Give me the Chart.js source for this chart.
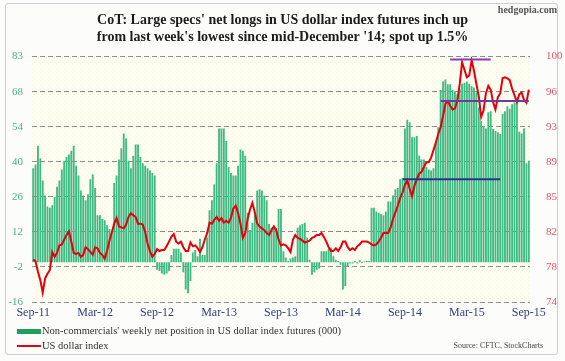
<!DOCTYPE html>
<html><head><meta charset="utf-8">
<script src="https://cdn.jsdelivr.net/npm/chart.js@4/dist/chart.umd.min.js"></script>
<style>
html,body{margin:0;padding:0;background:#fff;}
#wrap{position:relative;width:565px;height:361px;overflow:hidden;background:#fcfcfa;}
#frame{position:absolute;left:5px;top:3px;width:553px;height:352px;border:1px solid #c7cfdb;border-radius:3px;box-sizing:border-box;}
#c{position:absolute;left:0;top:0;}
.t{position:absolute;font-family:"Liberation Serif","Times New Roman",serif;color:#333;white-space:nowrap;}
.sw{position:absolute;}
</style></head>
<body>
<div id="wrap">
<div id="frame"></div>
<canvas id="c" width="565" height="361"></canvas>
<div class="t" id="brand" style="right:8px;top:4px;font-size:10px;font-weight:bold;color:#555;">hedgopia.com</div>
<div class="sw" style="left:17px;top:329px;width:24px;height:5px;background:#1f9e5e;"></div>
<div class="t" id="lg1" style="left:42px;top:324px;font-size:10.5px;line-height:13px;"></div>
<div class="sw" style="left:17px;top:345px;width:24px;height:2px;background:#e3000f;"></div>
<div class="t" id="lg2" style="left:42px;top:339px;font-size:10.5px;line-height:13px;"></div>
<div class="t" id="src" style="right:22px;top:341px;font-size:8px;line-height:10px;color:#444;">Source: CFTC, StockCharts</div>
</div>
<script>
// ---- data ----
const titleLines = ["CoT: Large specs' net longs in US dollar index futures inch up",
                    "from last week's lowest since mid-December '14; spot up 1.5%"];
const seriesNames = ["Non-commercials' weekly net position in US dollar index futures (000)", "US dollar index"];
const tickLabels = ["Sep-11","Mar-12","Sep-12","Mar-13","Sep-13","Mar-14","Sep-14","Mar-15","Sep-15"];
const leftTicks = [-16,-2,12,26,40,54,68,83];
const rightTicks = [74,78,82,85,89,93,96,100];
const firstWeek = "2011-09-20";

const netLongs = [
 38,39.5,47,42,33,27,22.5,22,23,26.5,
 30.5,33,37.5,41,42.5,43.5,45,47,39,35,
 29,27,25,27.5,33.5,35.5,30,19,19,17.5,
 17,15,13.5,12.5,32,35,41.5,46,52,50,
 41,38,43,47.5,47.5,42.5,40,39,38,37,
 36,35,-3,-3.5,-4.5,-5,-4.5,-3.5,3,5.5,
 5.5,5.5,4,-4,-11,-12.5,-7.5,4,5,2.5,
 9.5,3,3,10,21,25,31.5,40,54,54,
 54,49,38.5,36,35,35,39,45.5,45,43,
 20,13,16,19,29,29.5,29,27,25,15.5,
 14,13.5,14,21.5,21.5,4.5,2,0.5,1.5,2,
 2.5,14,15,15.5,16,10,1,-5,-4,-3,
 -2.5,4.5,4.5,4.5,5.5,6,2.5,1,0.5,-1,
 -11,-9.5,-1.5,-0.5,-0.5,0.5,-0.5,0.8,-0.3,0.3,
 0.5,0.5,22,22,20.5,20,19.5,19,20.5,24.5,
 24.5,27,29.5,30,33.5,34,54,57.5,56.5,50.5,
 50.5,51,43,41.5,41.5,38.5,37.5,37,38,49,
 54.5,69.5,73,73.8,71.8,71.8,69.5,69,68,70,
 72,72.5,73,72,71,70.5,68.5,62.5,57,55,
 54,60.5,61,53.8,53,52.5,51.8,59.8,61,63,
 62,63.8,64.5,65.5,52.7,52,54,40,41];

const dollarIndex = [
 78.5,78.3,77.2,76.3,75.0,76.5,77.0,77.4,79.3,78.8,
 79.2,80.0,80.1,80.6,81.1,81.5,80.4,79.2,79.1,79.2,
 78.8,79.0,79.8,79.6,79.3,79.0,79.8,79.7,79.2,79.0,
 78.6,79.4,80.5,81.4,82.3,82.9,82.0,81.9,81.8,82.2,
 83.0,83.4,83.2,83.0,82.3,82.3,82.2,81.4,80.2,79.4,
 78.8,79.1,79.6,79.4,79.5,79.5,79.9,80.4,80.9,81.2,
 80.4,80.2,80.4,79.8,79.4,79.4,80.3,79.9,80.0,79.7,
 79.3,79.8,80.6,81.3,82.4,82.3,82.7,83.0,82.6,82.9,
 82.4,82.6,82.4,82.9,83.9,84.2,83.4,82.3,80.8,81.3,
 82.8,83.8,84.5,83.5,82.3,82.0,81.8,81.6,81.3,81.1,
 81.6,82.0,81.6,80.6,80.0,80.1,80.0,79.7,79.3,80.6,
 81.1,80.8,80.7,80.5,80.3,80.4,80.5,80.8,80.9,81.1,
 81.1,81.3,80.9,80.4,79.8,79.4,79.4,79.7,79.4,79.8,
 80.4,80.4,79.8,79.5,79.7,79.5,79.9,80.1,80.4,80.4,
 80.4,80.3,80.1,80.0,80.1,80.4,80.8,81.3,81.3,81.3,
 81.9,82.8,83.5,84.2,85.0,85.6,86.4,86.9,86.0,85.2,
 86.3,87.0,87.6,87.8,88.3,88.8,88.8,89.3,90.1,90.9,
 91.8,92.5,93.7,95.0,95.3,94.8,94.4,94.5,95.3,97.1,
 99.4,98.6,97.8,98.0,99.6,98.5,97.1,95.8,93.6,94.3,
 96.1,96.9,96.5,95.2,94.4,95.7,96.1,97.7,97.8,97.7,
 97.5,96.6,95.9,95.2,96.0,96.2,95.4,95.1,96.5];

// drawn support/resistance levels on the dollar index: [value, first week index, last week index]
const levelTop = [99.7, 175, 192];
const levelMid = [95.3, 171, 208];
const levelLow = [87.0, 155, 196];

// ---- build ----
const weeks = [];
{ const d0 = new Date(firstWeek + "T00:00:00Z");
  for (let i = 0; i < netLongs.length; i++) {
    const d = new Date(d0.getTime() + i * 7 * 86400000);
    weeks.push(d.toISOString().slice(0,10));
  } }
function levelData(lv){ return weeks.map((w,i)=> (i>=lv[1] && i<=lv[2]) ? lv[0] : null); }

document.getElementById('lg1').textContent = seriesNames[0];
document.getElementById('lg2').textContent = seriesNames[1];

const serif = "'Liberation Serif','Times New Roman',serif";

// dotted cream pattern for plot area
const pc = document.createElement('canvas'); pc.width = 4; pc.height = 4;
const pctx = pc.getContext('2d');
pctx.fillStyle = '#fdfdf4'; pctx.fillRect(0,0,4,4);
pctx.fillStyle = 'rgba(236,228,175,0.35)'; pctx.fillRect(0,0,1,1); pctx.fillRect(2,2,1,1);

const bgPlugin = {
  id: 'plotBg',
  beforeDraw(chart){
    const {ctx, chartArea:a} = chart;
    ctx.save();
    ctx.fillStyle = ctx.createPattern(pc, 'repeat');
    ctx.fillRect(a.left, a.top, a.right - a.left, a.bottom - a.top);
    ctx.restore();
  }
};

new Chart(document.getElementById('c'), {
  type: 'bar',
  data: {
    labels: weeks,
    datasets: [
      { type:'bar', label: seriesNames[0], data: netLongs, yAxisID:'y',
        backgroundColor:'#3fba82', barPercentage:0.78, categoryPercentage:1.0, order:3 },
      { type:'line', label: seriesNames[1], data: dollarIndex, yAxisID:'y1',
        borderColor:'#e3000f', borderWidth:2, pointRadius:0, tension:0, order:2 },
      { type:'line', label:'level top', data: levelData(levelTop), yAxisID:'y1',
        borderColor:'#8b3cb0', borderWidth:2, pointRadius:0, spanGaps:false, order:1 },
      { type:'line', label:'level mid', data: levelData(levelMid), yAxisID:'y1',
        borderColor:'#6b3d9c', borderWidth:2, pointRadius:0, spanGaps:false, order:1 },
      { type:'line', label:'level low', data: levelData(levelLow), yAxisID:'y1',
        borderColor:'#2b3590', borderWidth:2, pointRadius:0, spanGaps:false, order:1 }
    ]
  },
  options: {
    responsive:false, animation:false, devicePixelRatio:1,
    layout:{ padding:{ left:0, right:0, top:0, bottom:35 } },
    plugins:{
      legend:{ display:false },
      tooltip:{ enabled:false },
      title:{ display:true, text:titleLines, color:'#1c1c1c',
        font:{ family:serif, size:14, weight:'bold', lineHeight:1.2 },
        padding:{ top:12, bottom:11 } }
    },
    scales:{
      x:{
        grid:{ display:false, drawTicks:false }, border:{ display:false },
        afterBuildTicks(s){ s.ticks = s.ticks.filter(t => t.value % 26 === 0); },
        afterFit(s){ s.height = 24; },
        ticks:{ autoSkip:false, maxRotation:0, minRotation:0, padding:4, color:'#34427a',
          font:{ family:serif, size:12 },
          callback:(v,i)=> tickLabels[i] }
      },
      y:{
        position:'left', min:-16, max:83,
        afterBuildTicks(s){ s.ticks = leftTicks.map((v,k)=>({ value: -16 + k*99/7 })); },
        afterFit(s){ s.width = 32; },
        grid:{ color:'#8d8d8d', lineWidth:1, drawTicks:false },
        border:{ display:false, dash:[5,3] },
        ticks:{ padding:9, color:'#4db386', font:{ family:serif, size:11 },
          callback:(v,i)=> leftTicks[i] }
      },
      y1:{
        position:'right', min:74, max:100,
        afterBuildTicks(s){ s.ticks = rightTicks.map((v,k)=>({ value: 74 + k*26/7 })); },
        afterFit(s){ s.width = 35; },
        grid:{ display:false, drawOnChartArea:false },
        border:{ display:false },
        ticks:{ padding:8, color:'#e05569', font:{ family:serif, size:11 },
          callback:(v,i)=> rightTicks[i] }
      }
    }
  },
  plugins:[bgPlugin]
});
</script>
</body></html>
